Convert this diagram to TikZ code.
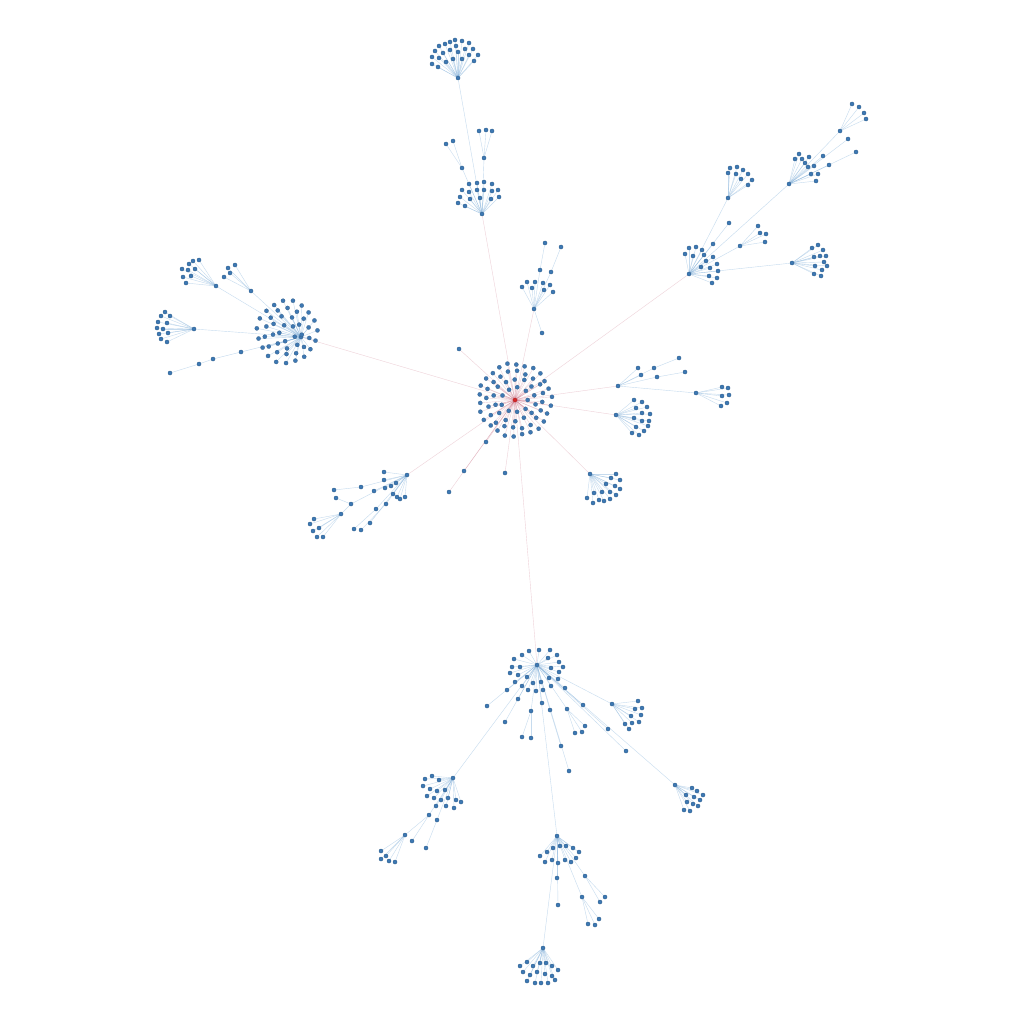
\documentclass[tikz,border=0pt]{standalone}
\usepackage{etoolbox}
\pgfdeclarelayer{bg}
\pgfsetlayers{bg,main}
\definecolor{nodeblue}{RGB}{62,120,178}
\definecolor{rootred}{RGB}{214,39,40}
\definecolor{edgeblue}{RGB}{120,170,215}
\definecolor{edgered}{RGB}{180,50,80}
\tikzset{
  leaf/.style={circle, fill=nodeblue, draw=nodeblue!75!black, line width=0.2pt, inner sep=0pt, minimum size=4.2pt},
  rootn/.style={leaf, fill=rootred, draw=rootred!75!black},
  bl/.style={draw=edgeblue, line width=0.4pt, draw opacity=0.42},
  rd/.style={draw=edgered, line width=0.4pt, draw opacity=0.22},
}
\gdef\edgelist{}
\newcommand\mkfan[4]{\foreach \px/\py [count=\k] in {#4} {\node[leaf] (#2-\k) at (\px,\py) {};
  \xappto\edgelist{\noexpand\draw[#3] (#1) -- (#2-\k);}}}
\newcommand\mkhub[5]{\node[leaf] (#2) at (#3,#4) {};
  \gappto\edgelist{\draw[#5] (#1) -- (#2);}}
\begin{document}
\begin{tikzpicture}[x=1pt,y=-1pt]
\useasboundingbox (0,0) rectangle (1024,1024);
% root
\node[rootn] (R) at (515,400) {};
\foreach \r/\n/\o [count=\j] in {13/9/0,21/14/12,28.5/20/4,36/26/9} {
  \foreach \i in {1,...,\n} {
    \pgfmathsetmacro\a{\o+360*\i/\n}
    \pgfmathsetmacro\rr{\r+1.2*sin(\i*97+\j*41)}
    \node[leaf] (R\j-\i) at ({515+\rr*cos(\a)},{400+\rr*sin(\a)}) {};
    \xappto\edgelist{\noexpand\draw[rd] (R) -- (R\j-\i);}
  }}
\mkfan{R}{r0}{rd}{459/349,486/442,505/473,464/471,449/492}
% A and T
\mkhub{R}{A}{482}{214}{rd}
\mkfan{A}{a}{bl}{469/184,477/183,484/182,492/184,462/190,469/192,477/190,484/190,492/191,498/190,460/197,470/199,480/198,491/199,499/197,458/203,465/206}
\mkhub{A}{A1}{462}{168}{bl}
\mkfan{A1}{a1}{bl}{446/144,453/141}
\mkhub{A}{A2}{484}{158}{bl}
\mkfan{A2}{a2}{bl}{479/131,486/130,492/131}
\mkhub{A}{T}{458}{78}{bl}
\mkfan{T}{t}{bl}{455/40,450/42,445/44,439/46,435/51,432/57,432/64,438/67,462/41,469/43,473/49,478/55,474/61,456/46,443/53,439/58,446/62,450/50,458/52,465/49,469/55,462/59,453/59}
% C
\mkhub{R}{C}{534}{309}{rd}
\mkfan{C}{c}{bl}{522/287,527/282,532/288,535/282,543/283,544/290,550/285,553/292,542/333}
\mkhub{C}{C1}{540}{270}{bl}
\mkfan{C1}{c1}{bl}{545/243}
\mkhub{C}{C2}{551}{272}{bl}
\mkfan{C2}{c2}{bl}{561/247}
% D
\mkhub{R}{D}{689}{274}{rd}
\mkfan{D}{d}{bl}{685/254,689/248,696/247,702/250,693/256,704/255,713/257,706/261,701/267,710/268,717/264,718/271,709/276,717/278,712/283,713/244,729/223}
\mkhub{D}{D1}{728}{198}{bl}
\mkfan{D1}{d1}{bl}{730/168,737/167,743/170,728/173,736/174,748/174,741/179,752/180,748/185}
\mkhub{D}{D2}{740}{246}{bl}
\mkfan{D2}{d2}{bl}{758/226,760/233,766/234,765/242}
\mkhub{D}{D3}{792}{263}{bl}
\mkfan{D3}{d3}{bl}{812/248,818/245,823/250,814/257,820/256,826/256,824/262,815/266,827/266,822/270,814/274,821/276}
\mkhub{D}{D4}{789}{184}{bl}
\mkfan{D4}{d4}{bl}{799/154,795/159,802/159,809/157,805/163,808/167,814/166,811/174,818/174,816/181,823/156,829/165,856/152,848/139}
\mkhub{D4}{D5}{840}{131}{bl}
\mkfan{D5}{d5}{bl}{852/104,859/107,864/113,866/119}
% E
\mkhub{R}{E}{618}{386}{rd}
\mkfan{E}{e}{bl}{638/368,641/375}
\mkhub{E}{Ea}{654}{368}{bl}
\mkfan{Ea}{ea}{bl}{679/358}
\mkhub{E}{Eb}{657}{377}{bl}
\mkfan{Eb}{eb}{bl}{685/372}
\mkhub{E}{E2}{696}{393}{bl}
\mkfan{E2}{e2}{bl}{722/387,728/388,722/396,729/395,727/403,721/406}
% F
\mkhub{R}{F}{616}{415}{rd}
\mkfan{F}{f}{bl}{634/400,642/402,636/408,647/407,642/413,650/414,634/418,642/421,649/421,636/427,648/426,644/431,632/433,639/435}
% G
\mkhub{R}{G}{590}{474}{rd}
\mkfan{G}{g}{bl}{616/474,611/478,620/480,606/484,615/486,620/489,594/493,602/492,610/492,616/495,587/498,599/500,604/501,610/499,593/503}
% H
\mkhub{R}{H}{407}{475}{rd}
\mkfan{H}{h}{bl}{384/472,384/480,391/486,396/483,385/488,393/494,397/497,400/499,405/497,370/523,374/491}
\mkhub{H}{Ha}{376}{509}{bl}
\mkfan{Ha}{ha}{bl}{354/529}
\mkhub{H}{Hb}{386}{504}{bl}
\mkfan{Hb}{hb}{bl}{361/530}
\mkhub{H}{Hc}{361}{487}{bl}
\mkfan{Hc}{hc}{bl}{334/490}
\mkhub{H}{Hd}{351}{504}{bl}
\mkfan{Hd}{hd}{bl}{336/498}
\mkhub{Hd}{H2}{341}{514}{bl}
\mkfan{H2}{h2}{bl}{314/519,310/524,319/528,313/531,317/537,323/537}
% B
\mkhub{R}{B}{301}{337}{rd}
\foreach \r/\n/\o [count=\j] in {8/5/30,15/9/50,22/14/40,29.5/19/35} {
  \foreach \i in {1,...,\n} {
    \pgfmathsetmacro\a{\o+360*\i/\n}
    \pgfmathsetmacro\rr{\r+1.0*sin(\i*83+\j*29)}
    \node[leaf] (B\j-\i) at ({287+\rr*cos(\a)},{332+1.05*\rr*sin(\a)}) {};
    \xappto\edgelist{\noexpand\draw[bl] (B) -- (B\j-\i);}
  }}
\mkhub{B}{B1}{216}{286}{bl}
\mkfan{B1}{b1}{bl}{199/260,193/261,189/264,182/269,188/270,195/269,183/277,191/276,186/283}
\mkhub{B}{B2}{251}{291}{bl}
\mkfan{B2}{b2}{bl}{235/265,228/268,230/273,224/277}
\mkhub{B}{B3}{194}{329}{bl}
\mkfan{B3}{b3}{bl}{165/312,170/316,161/316,158/322,167/323,157/328,163/329,168/333,159/334,161/339,167/342}
\mkhub{B}{Ba}{241}{352}{bl}
\mkhub{Ba}{Bb}{213}{359}{bl}
\mkhub{Bb}{Bc}{199}{364}{bl}
\mkfan{Bc}{bc}{bl}{170/373}
% I
\mkhub{R}{I}{537}{665}{rd}
\mkfan{I}{i}{bl}{539/650,550/650,529/651,522/655,514/659,548/658,557/655,559/662,563/667,512/667,520/667,551/668,559/672,510/673,518/675,527/677,549/678,541/682,558/679,515/682,533/683,522/686,551/686,565/688,528/690,536/691,543/690,507/690,518/699,542/703,487/706,505/722,583/705,608/729,626/751,569/771}
\mkhub{I}{Ia}{531}{711}{bl}
\mkfan{Ia}{ia}{bl}{522/737,531/738}
\mkhub{I}{Ib}{550}{710}{bl}
\mkfan{Ib}{ib}{bl}{561/746}
\mkhub{I}{Ic}{567}{709}{bl}
\mkfan{Ic}{ic}{bl}{575/733,582/732,585/726}
\mkhub{I}{I2}{612}{704}{bl}
\mkfan{I2}{i2}{bl}{638/701,642/708,635/709,631/716,641/715,625/724,632/723,639/722,629/729}
\mkhub{I}{I3}{453}{778}{bl}
\mkfan{I3}{i3}{bl}{425/779,432/776,439/780,423/786,430/789,437/791,445/790,427/796,434/798,441/800,448/798,456/800,461/802,446/806,454/808,436/806}
\mkhub{I3}{I3a}{429}{815}{bl}
\mkhub{I3a}{I3b}{405}{835}{bl}
\mkfan{I3a}{i3a}{bl}{412/841}
\mkfan{I3b}{i3b}{bl}{381/851,386/856,381/859,389/861,395/862}
\mkhub{I3}{I3c}{437}{820}{bl}
\mkfan{I3c}{i3c}{bl}{426/848}
\mkhub{I}{I4}{557}{836}{bl}
\mkfan{I4}{i4}{bl}{540/856,547/852,553/848,560/846,566/846,573/848,579/852,545/862,552/860,558/863,565/860,571/862,576/858,557/878,558/905}
\mkhub{I4}{I4a}{585}{876}{bl}
\mkfan{I4a}{i4a}{bl}{605/897,600/902}
\mkhub{I4}{I4b}{582}{897}{bl}
\mkfan{I4b}{i4b}{bl}{588/924,595/925,599/919}
\mkhub{I4}{I6}{543}{948}{bl}
\mkfan{I6}{i6}{bl}{520/966,527/962,533/966,540/963,546/963,552/966,558/970,523/972,530/975,537/972,545/974,552/976,527/981,535/983,541/983,548/983,555/980}
\mkhub{I}{I5}{675}{785}{bl}
\mkfan{I5}{i5}{bl}{692/788,697/791,703/795,686/795,694/797,700/800,687/802,693/804,698/806,684/810,690/811}
% background and connectors, beneath the nodes
\begin{pgfonlayer}{bg}
\fill[white] (0,0) rectangle (1024,1024);
\edgelist
\end{pgfonlayer}
\end{tikzpicture}
\end{document}
